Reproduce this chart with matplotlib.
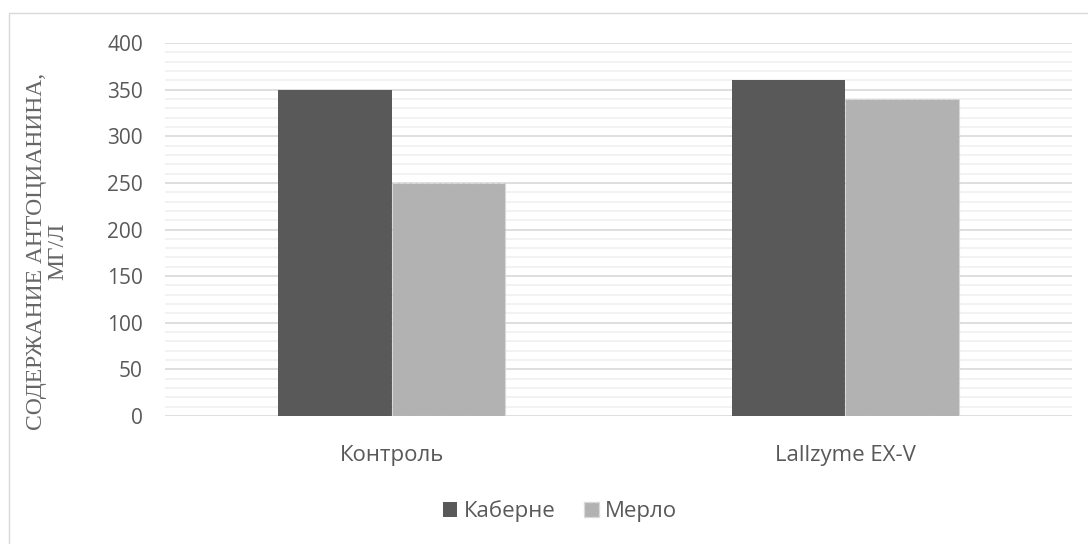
import numpy as np
import matplotlib.pyplot as plt
from matplotlib.patches import Rectangle, Patch

categories = ["Контроль", "Lallzyme EX-V"]
cabernet = [350, 360]
merlot = [250, 340]
series_names = ["Каберне", "Мерло"]

txt = "#595959"
dark = "#595959"
light = "#b2b2b2"

plt.rcParams['font.family'] = ['Open Sans', 'DejaVu Sans']

fig = plt.figure(figsize=(10.88, 5.44), dpi=100)
ax = fig.add_axes([165/1088, 1-416/544, (1072-165)/1088, (416-43)/544])

# outer chart border
fig.patches.append(Rectangle((9/1088, -0.1), 1.2, 1-13/544+0.1, transform=fig.transFigure,
                             fill=False, edgecolor="#d9d9d9", linewidth=1))

x = np.arange(len(categories))
w = 0.25
ax.bar(x - w/2, cabernet, w, color=dark, zorder=3)
ax.bar(x + w/2, merlot, w, color=light, edgecolor="#d9d9d9", linestyle="--", linewidth=0.8, zorder=3)

ax.set_xlim(-0.5, 1.5)
ax.set_ylim(0, 400)
ax.set_yticks(np.arange(0, 401, 50))
ax.set_yticks(np.arange(0, 401, 10), minor=True)
ax.grid(axis="y", which="major", color="#d9d9d9", linewidth=1.2, zorder=0)
ax.grid(axis="y", which="minor", color="#f0f0f0", linewidth=1.2, zorder=0)
ax.set_xticks(x)
ax.set_xticklabels(categories)
for s in ax.spines.values():
    s.set_visible(False)
ax.tick_params(axis="both", which="both", length=0, colors=txt)
ax.tick_params(axis="y", labelsize=15, pad=16)
ax.tick_params(axis="x", labelsize=16, pad=21)

fig.text(47/1088, 1-251/544, "СОДЕРЖАНИЕ АНТОЦИАНИНА,\nМГ/Л", rotation=90, ha="center", va="center",
         family="Liberation Serif", fontsize=17, color="#666666", linespacing=1.0)

handles = [Patch(facecolor=dark), Patch(facecolor=light, edgecolor="#d9d9d9", linestyle="--")]
fig.legend(handles, series_names, loc="center", bbox_to_anchor=(560/1088, 1-511/544), ncol=2,
           frameon=False, fontsize=16, labelcolor=txt, handlelength=0.65, handleheight=0.65,
           handletextpad=0.3, columnspacing=1.3)

fig.savefig("out.png", dpi=100)
